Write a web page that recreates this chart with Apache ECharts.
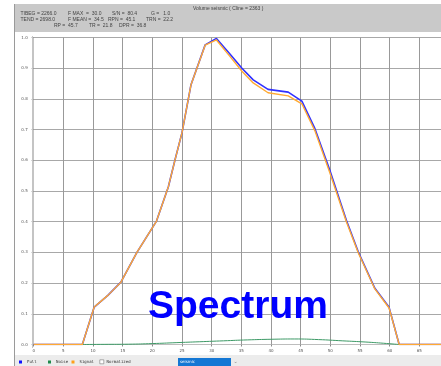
<!DOCTYPE html>
<html>
<head>
<meta charset="utf-8">
<script src="https://cdn.jsdelivr.net/npm/echarts@6/dist/echarts.min.js"></script>
<style>
  html, body { margin: 0; padding: 0; background: #ffffff; }
  #chart { width: 441px; height: 366px; }
</style>
</head>
<body>
<div id="chart"></div>
<script>
// Frequency samples (Hz) shared by the full and signal spectra
var freq = [0, 8.2, 10.2, 12.5, 14.7, 17.4, 20.7, 22.7, 23.8, 25.0, 26.5, 28.9, 30.8, 33.0, 35.1, 37.0, 39.5, 42.9, 45.2, 47.4, 49.9, 52.7, 54.7, 57.5, 59.9, 61.6, 70];

// Normalised amplitude of the full trace
var fullAmp = [0, 0, 0.122, 0.16, 0.203, 0.30, 0.402, 0.514, 0.60, 0.69, 0.845, 0.976, 0.997, 0.948, 0.900, 0.862, 0.831, 0.822, 0.793, 0.703, 0.568, 0.405, 0.302, 0.183, 0.121, 0, 0];

// Normalised amplitude of the signal estimate
var signalAmp = [0, 0, 0.122, 0.16, 0.203, 0.30, 0.402, 0.514, 0.60, 0.69, 0.845, 0.975, 0.992, 0.940, 0.890, 0.852, 0.820, 0.810, 0.784, 0.696, 0.560, 0.400, 0.299, 0.181, 0.119, 0, 0];

// Noise spectrum (only present inside the band)
var noiseFreq = [8.2, 12, 16, 20, 24, 28, 32, 36, 40, 44, 48, 52, 56, 59, 61.6];
var noiseAmp = [0, 0.0005, 0.001, 0.003, 0.006, 0.009, 0.012, 0.015, 0.017, 0.018, 0.016, 0.012, 0.008, 0.004, 0];

// Header statistics
var headerTitle = 'Volume seismic ( Cline = 2363 )';
var headerRows = [
  [['TIBEG = 2266.0', 20.5], ['F MAX  =  30.0', 68], ['S/N =  80.4', 112], ['G =   1.0', 151]],
  [['TEND = 2698.0', 20.5], ['F MEAN =  34.5', 68], ['RPN =  45.1', 108], ['TRN =  22.2', 146]],
  [['RP =  45.7', 54], ['TR =  21.8', 89], ['DPR =  36.8', 119]]
];

var xTickLabels = ['0', '5', '10', '15', '20', '25', '30', '35', '40', '45', '50', '55', '60', '65'];
var yTickLabels = ['0.0', '0.1', '0.2', '0.3', '0.4', '0.5', '0.6', '0.7', '0.8', '0.9', '1.0'];

function pairs(xs, ys) {
  return xs.map(function (x, i) { return [x, ys[i]]; });
}

var chart = echarts.init(document.getElementById('chart'), null, { renderer: 'canvas' });

var headerGraphics = [
  { type: 'rect', left: 14, top: 4, shape: { width: 427, height: 28 }, style: { fill: '#c9c9c9' }, z: 0 },
  { type: 'rect', left: 14, top: 355, shape: { width: 427, height: 11 }, style: { fill: '#ececec' }, z: 0 },
  { type: 'line', shape: { x1: 14.5, y1: 4, x2: 14.5, y2: 366 }, style: { stroke: '#9a9a9a', lineWidth: 1 }, z: 1 },
  { type: 'line', shape: { x1: 32.5, y1: 36, x2: 32.5, y2: 348 }, style: { stroke: '#c4c4c4', lineWidth: 1 }, z: 1 },
  { type: 'text', left: 193, top: 6.5, style: { text: headerTitle, fontSize: 5, fontFamily: 'Liberation Sans', fill: '#444' }, z: 2 }
];
headerRows.forEach(function (row, r) {
  row.forEach(function (cell) {
    headerGraphics.push({
      type: 'text', left: cell[1], top: 11.5 + r * 6,
      style: { text: cell[0], fontSize: 5, fontFamily: 'Liberation Sans', fill: '#444' }, z: 2
    });
  });
});

// Bottom toolbar: normalise checkbox, volume selector and the overlay caption
headerGraphics.push(
  { type: 'rect', left: 99.5, top: 359.5, shape: { width: 4, height: 4 }, style: { fill: '#fff', stroke: '#777', lineWidth: 0.6 }, z: 3 },
  { type: 'text', left: 106.5, top: 359.5, style: { text: 'Normalized', fontSize: 4, fontFamily: 'DejaVu Sans Mono', fill: '#333' }, z: 3 },
  { type: 'rect', left: 178, top: 358, shape: { width: 53, height: 8 }, style: { fill: '#1477d4' }, z: 3 },
  { type: 'text', left: 180, top: 360, style: { text: 'seismic', fontSize: 4, fontFamily: 'DejaVu Sans', fill: '#fff' }, z: 4 },
  { type: 'text', left: 233.5, top: 359, style: { text: '\u2304', fontSize: 5, fontFamily: 'DejaVu Sans', fill: '#777' }, z: 4 },
  { type: 'text', left: 148, top: 288, style: { text: 'Spectrum', fontSize: 39, fontWeight: 'bold', fontFamily: 'Liberation Sans', fill: '#0000ff' }, z: 10 }
);

function legendAt(name, left) {
  return {
    data: [name], left: left, top: 360, orient: 'horizontal', padding: 0,
    icon: 'rect', itemWidth: 3, itemHeight: 3, itemGap: 0,
    textStyle: { fontSize: 4, fontFamily: 'DejaVu Sans Mono', color: '#333', padding: [0, 0, 0, 0] },
    selectedMode: false
  };
}

chart.setOption({
  animation: false,
  backgroundColor: '#ffffff',
  grid: { left: 33.7, top: 37.5, right: 0, height: 307, containLabel: false },
  legend: [legendAt('Full', 19), legendAt('Noise', 48), legendAt('Signal', 71.5)],
  xAxis: {
    type: 'value', min: 0, max: 68.65, interval: 5,
    axisLine: { show: true, onZero: false, lineStyle: { color: '#bdbdbd', width: 1 } },
    axisTick: { show: true, length: 2, lineStyle: { color: '#888' } },
    axisLabel: {
      showMaxLabel: false, fontSize: 4, fontFamily: 'DejaVu Sans', color: '#555', margin: 4,
      formatter: function (v) { return xTickLabels[Math.round(v / 5)] || ''; }
    },
    splitLine: { show: true, lineStyle: { color: '#999999', width: 1 } }
  },
  yAxis: {
    type: 'value', min: 0, max: 1, interval: 0.1, offset: 4,
    axisLine: { show: true, lineStyle: { color: '#c4c4c4', width: 1 } },
    axisTick: { show: true, length: 2, lineStyle: { color: '#888' } },
    axisLabel: {
      fontSize: 4, fontFamily: 'DejaVu Sans', color: '#555', margin: 2,
      formatter: function (v) { return yTickLabels[Math.round(v * 10)] || ''; }
    },
    splitLine: { show: true, lineStyle: { color: '#a8a8a8', width: 1.2 } }
  },
  graphic: headerGraphics,
  series: [
    {
      name: 'Full', type: 'line', data: pairs(freq, fullAmp), showSymbol: false,
      lineStyle: { color: '#3030ff', width: 1.6 }, itemStyle: { color: '#1010ff' }, z: 3
    },
    {
      name: 'Noise', type: 'line', data: pairs(noiseFreq, noiseAmp), showSymbol: false, smooth: true,
      lineStyle: { color: '#3d9a66', width: 1 }, itemStyle: { color: '#1f8a4c' }, z: 4
    },
    {
      name: 'Signal', type: 'line', data: pairs(freq, signalAmp), showSymbol: false,
      lineStyle: { color: '#ffaa33', width: 1.4 }, itemStyle: { color: '#ff9f1a' }, z: 5
    }
  ]
});
</script>
</body>
</html>
